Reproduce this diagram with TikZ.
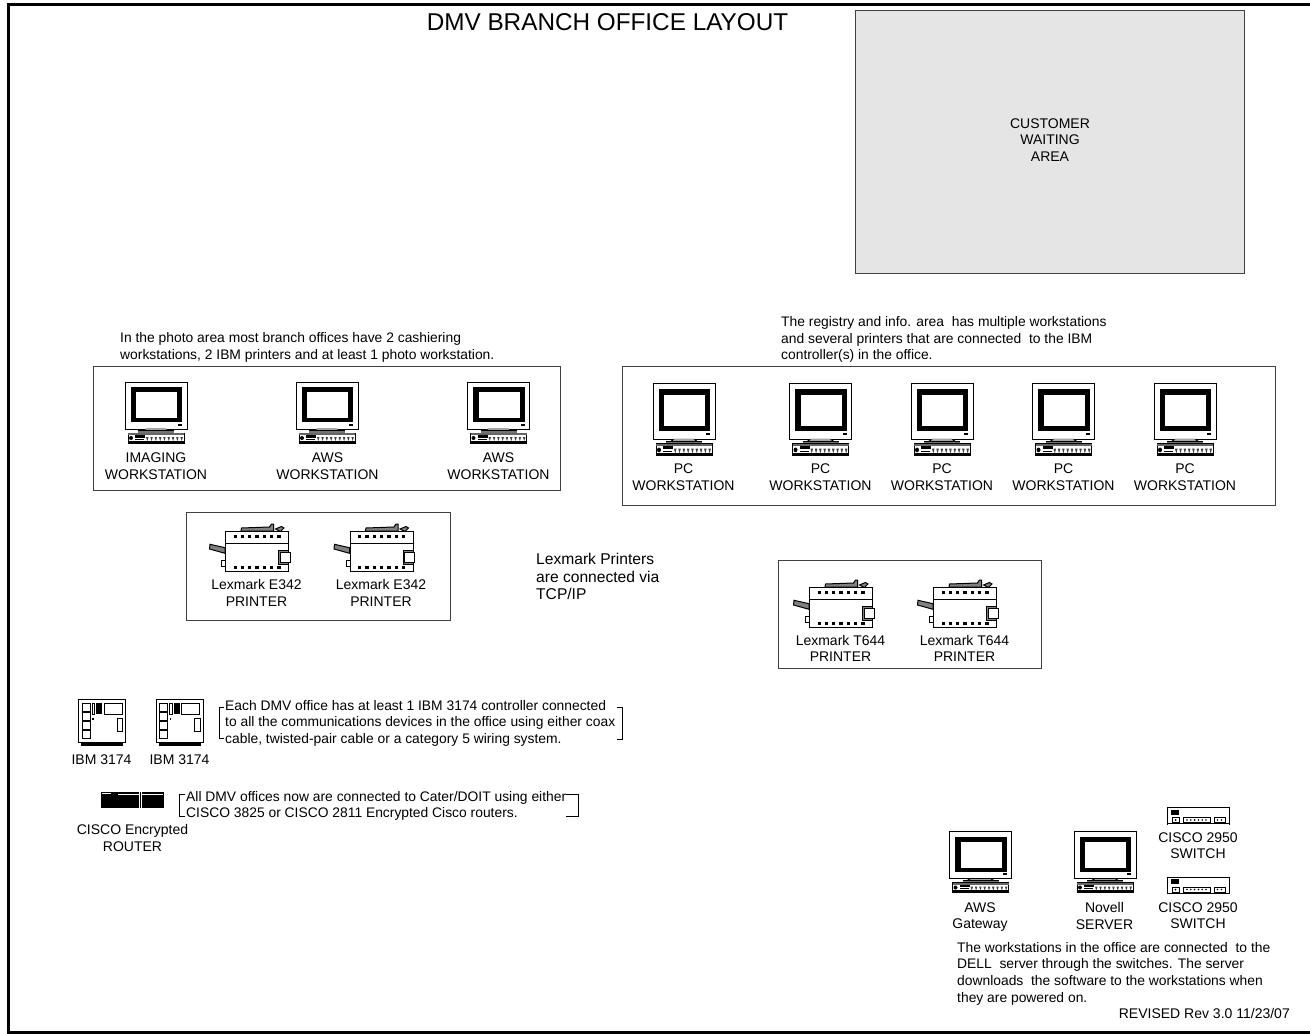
\documentclass[tikz,border=0pt]{standalone}
\usepackage{fontspec}
\setmainfont{Liberation Sans}
\tikzset{
  x=1pt,y=-1pt,
  box/.style={draw=black!75,line width=0.9pt},
  lbl/.style={inner sep=0pt,align=center,font=\fontsize{14}{16.6}\selectfont},
  para/.style={inner sep=0pt,align=left,font=\fontsize{13.85}{16.6}\selectfont,anchor=north west},
  brk/.style={draw=black,line width=0.8pt},
  ln/.style={draw=black,line width=1pt},
  ink/.style={fill=black},
}
% monitor: centre x, top y, vertical scale
\newcommand{\monitorpic}[3]{%
\begin{scope}[shift={(#1,#2)},yscale=#3]
  \draw[ln,fill=white] (-31,0) rectangle (31,47);
  \fill[ink] (-25.5,5) rectangle (26,40);
  \fill[white] (-20,10) rectangle (21,36);
  \fill[ink] (22,41.5) rectangle (26,43.5);
  \fill[black!55] (-18,48.5) rectangle (18,51);
  \draw[draw=black,line width=0.6pt,fill=white] (-10,47) -- (10,47) -- (13,48.5) -- (-13,48.5) -- cycle;
  \draw[draw=black,line width=0.6pt] (-18,48.5) -- (18,48.5);
  \draw[ln,fill=white] (-28,51) rectangle (28,61);
  \fill[black!60] (-28,51) rectangle (28,53);
  \fill[ink] (-28,58.5) rectangle (28,61);
  \fill[ink] (-25,56) circle (2);
  \fill[ink] (-21,53) rectangle (-11,55.5);
  \fill[ink] (-21,56.5) rectangle (-12,57.5);
  \foreach \k in {0,...,8}{\fill[black!75] (-10+\k*4.3,55) -- (-7.5+\k*4.3,55) -- (-8.7+\k*4.3,59) -- cycle;}
\end{scope}}
% printer: centre x, top of body y
\newcommand{\printerpic}[2]{%
\begin{scope}[shift={(#1,#2)}]
 \draw[ln,fill=black!50] (-15.5,0) -- (-15,-3) -- (13,-4) -- (15,-7) -- (17,-7) -- (17,0) -- cycle;
 \draw[ln,fill=black!50] (19,-2) -- (25,-4.5) -- (27.5,-3) -- (24,0.5) -- cycle;
 \draw[ln,fill=black!50] (-31.5,16.7) -- (-46.5,13.3) -- (-47,18) -- (-31.5,22.3) -- cycle;
 \draw[ln,fill=white] (-35,29) rectangle (-31,35);
 \draw[ln,fill=white] (-31,0) rectangle (32,40);
 \draw[ln] (-31,12) -- (32,12);
 \foreach \k in {0,...,6}{
  \fill[ink] (-23+\k*7.3,4) rectangle (-19.7+\k*7.3,7.3);
  \fill[ink] (-23+\k*7.3,35) rectangle (-19.7+\k*7.3,38.3);}
 \draw[ln,fill=black!50] (22,19) rectangle (32,33);
 \draw[ln,fill=white] (23.5,21.3) rectangle (33.5,31.3);
\end{scope}}
% controller: centre x, top y
\newcommand{\ctrlpic}[2]{%
\begin{scope}[shift={(#1,#2)}]
 \fill[ink] (-21,43) rectangle (21,47);
 \draw[ln,fill=white] (-23.5,0) rectangle (23.5,43);
 \foreach \k in {0,1,2,3}{\draw[ln,fill=white] (-20,4+\k*9) rectangle (-12,4+\k*9+8);}
 \draw[ln] (-10,4) rectangle (-7.5,15);
 \fill[ink] (-6,4) rectangle (0,15);
 \draw[ln] (2,4) rectangle (20,15);
 \draw[ln] (15,19) rectangle (20.5,32);
 \fill[ink] (-10,18.5) rectangle (-8.5,21);
\end{scope}}
% switch: centre x, top y
\newcommand{\switchpic}[2]{%
\begin{scope}[shift={(#1,#2)}]
 \draw[ln] (-31,17) -- (-31,0) -- (31,0) -- (31,17);
 \draw[ln] (-31,16) -- (31,16);
 \fill[ink] (-27,2) rectangle (-19,7);
 \draw[ln] (-26,10) rectangle (-19,15);
 \draw[ln] (-15,10) rectangle (12,15);
 \draw[ln] (16,10) rectangle (27,15);
 \foreach \k in {0,...,5}{\fill[ink] (-11+\k*3.8,12.5) circle (0.9);}
 \foreach \k in {0,1}{\fill[ink] (19.5+\k*4,12.5) circle (0.9);}
 \fill[ink] (-22.5,12.5) circle (1);
\end{scope}}
\begin{document}
\begin{tikzpicture}
\useasboundingbox (0,0) rectangle (1310,1034);
% frame
\fill[black] (7,3) rectangle (10,1034);
\fill[black] (7,3) rectangle (1310,6);
\fill[black] (7,1030.5) rectangle (1310,1034);
\node[inner sep=0pt,font=\fontsize{24.3}{28}\selectfont] (title) at (607.5,22) {DMV BRANCH OFFICE LAYOUT};
% customer area
\draw[box,fill=black!10] (855.5,10) rectangle (1244.5,273);
\node[lbl] (cust) at (1050,140) {CUSTOMER\\WAITING\\AREA};
% photo area
\node[para] (phototext) at (120,332.5) {In the photo area most branch offices have 2 cashiering\\workstations, 2 IBM printers and at least 1 photo workstation.};
\draw[box] (93.5,366) rectangle (560.5,490);
\monitorpic{156}{382}{1}
\monitorpic{327}{382}{1}
\monitorpic{498.5}{382}{1}
\node[lbl] (w1) at (156,466) {IMAGING\\WORKSTATION};
\node[lbl] (w2) at (327.5,466) {AWS\\WORKSTATION};
\node[lbl] (w3) at (498.5,466) {AWS\\WORKSTATION};
% registry
\node[para] (regtext) at (781,316.5) {The registry and info. area\ \ has multiple workstations\\and several printers that are connected\ \ to the IBM\\controller(s) in the office.};
\draw[box] (622.5,366) rectangle (1275.5,505);
\foreach \cx in {684,820.5,942,1063.5,1185}{\monitorpic{\cx}{383}{1.195}}
\node[lbl] (p1) at (683.5,477) {PC\\WORKSTATION};
\node[lbl] (p2) at (820.5,477) {PC\\WORKSTATION};
\node[lbl] (p3) at (942,477) {PC\\WORKSTATION};
\node[lbl] (p4) at (1063.5,477) {PC\\WORKSTATION};
\node[lbl] (p5) at (1185,477) {PC\\WORKSTATION};
% E342
\draw[box] (186.5,512) rectangle (450.5,620);
\printerpic{256.5}{531}
\printerpic{381}{531}
\node[lbl] (e1) at (256.5,593) {Lexmark E342\\PRINTER};
\node[lbl] (e2) at (381,593) {Lexmark E342\\PRINTER};
\node[para,font=\fontsize{15.6}{17.5}\selectfont] (lex) at (536,553) {Lexmark Printers\\are connected via\\TCP/IP};
% T644
\draw[box] (778.5,560) rectangle (1041.5,668);
\printerpic{840.5}{587}
\printerpic{964.5}{587}
\node[lbl] (t1) at (840.5,648.5) {Lexmark T644\\PRINTER};
\node[lbl] (t2) at (964.5,648.5) {Lexmark T644\\PRINTER};
% controllers
\ctrlpic{102}{699}
\ctrlpic{179.5}{699}
\node[lbl] (c1) at (101.5,760) {IBM 3174};
\node[lbl] (c2) at (179.5,760) {IBM 3174};
\node[para] (ctext) at (225,700) {Each DMV office has at least 1 IBM 3174 controller connected\\to all the communications devices in the office using either coax\\cable, twisted-pair cable or a category 5 wiring system.};
\draw[brk] (224,707) -- (219,707) -- (219,738) -- (224,738);
\draw[brk] (617,707) -- (622.5,707) -- (622.5,739) -- (617,739);
% router
\fill[ink] (101,792) rectangle (164,808);
\fill[white] (102,793) rectangle (111,794);
\fill[white] (118,794) rectangle (139,795);
\fill[white] (142,794) rectangle (163,795);
\draw[white,line width=0.5pt] (139.5,792) -- (139.5,808);
\draw[white,line width=0.5pt] (141.5,792) -- (141.5,808);
\node[lbl] (r1) at (132.5,838) {CISCO Encrypted\\ROUTER};
\node[para] (rtext) at (186,791) {All DMV offices now are connected to Cater/DOIT using either\\CISCO 3825 or CISCO 2811 Encrypted Cisco routers.};
\draw[brk] (185,794) -- (179,794) -- (179,816) -- (185,816);
\draw[brk] (566,794) -- (578,794) -- (578,816) -- (566,816);
% server group
\monitorpic{980.5}{831.5}{1}
\monitorpic{1105}{831.5}{1}
\node[lbl] (g1) at (980,917) {AWS\\Gateway};
\node[lbl] (g2) at (1104.5,916) {Novell\\SERVER};
\switchpic{1198}{807.5}
\switchpic{1198}{877}
\node[lbl] (s1) at (1198,845.5) {CISCO 2950\\SWITCH};
\node[lbl] (s2) at (1198,915.5) {CISCO 2950\\SWITCH};
\node[para] (stext) at (957,942) {The workstations in the office are connected\ \ to the\\DELL\ \ server through the switches. The server\\downloads\ \ the software to the workstations when\\they are powered on.};
\node[inner sep=0pt,font=\fontsize{14}{16.6}\selectfont,anchor=east] (rev) at (1290,1013) {REVISED Rev 3.0 11/23/07};
\end{tikzpicture}
\end{document}
